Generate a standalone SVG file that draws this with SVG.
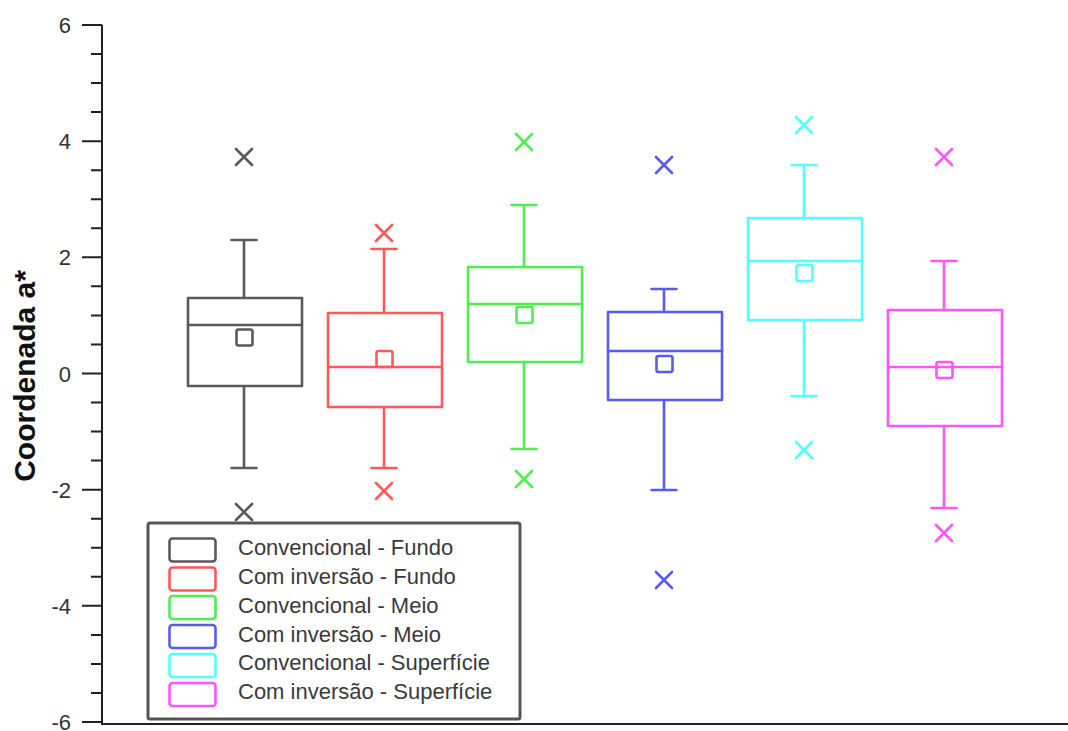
<svg xmlns="http://www.w3.org/2000/svg" width="1068" height="731" viewBox="0 0 1068 731">
  <style>
    .axis { stroke: #222; stroke-width: 2; fill: none; }
    .tick { font-family: "Liberation Sans", Arial, sans-serif; font-size: 22px; fill: #333; text-anchor: end; }
    .ylab { font-family: "Liberation Sans", Arial, sans-serif; font-size: 30px; font-weight: bold; fill: #111; text-anchor: middle; }
    .bx { fill: none; stroke-width: 2.6; stroke-linejoin: round; stroke-linecap: round; }
    .leg { font-family: "Liberation Sans", Arial, sans-serif; font-size: 22px; fill: #3a3a3a; }
    .c1 { stroke: #5a5a5a; } .c2 { stroke: #ff5a5a; } .c3 { stroke: #50ee50; }
    .c4 { stroke: #5a5af0; } .c5 { stroke: #55ffff; } .c6 { stroke: #ff55ff; }
  </style>

  <rect width="1068" height="731" fill="#fff"/>

  <!-- axes -->
  <g id="axes">
    <path class="axis" d="M102 25 V724 M101 724 H1068"/>
    <path class="axis" d="M82 25 H102 M82 141.2 H102 M82 257.3 H102 M82 373.5 H102 M82 489.7 H102 M82 605.8 H102 M82 722 H102"/>
    <path class="axis" d="M91 54 H102 M91 83.1 H102 M91 112.1 H102 M91 170.2 H102 M91 199.2 H102 M91 228.3 H102 M91 286.3 H102 M91 315.4 H102 M91 344.5 H102 M91 402.5 H102 M91 431.6 H102 M91 460.6 H102 M91 518.7 H102 M91 547.8 H102 M91 576.8 H102 M91 634.9 H102 M91 663.9 H102 M91 693 H102"/>
    <text class="tick" x="71" y="33">6</text>
    <text class="tick" x="71" y="149">4</text>
    <text class="tick" x="71" y="265">2</text>
    <text class="tick" x="71" y="381.5">0</text>
    <text class="tick" x="71" y="497.5">-2</text>
    <text class="tick" x="71" y="614">-4</text>
    <text class="tick" x="71" y="730">-6</text>
    <text class="ylab" transform="translate(35 376) rotate(-90)">Coordenada a*</text>
  </g>

  <!-- box plots: box, median, whiskers with caps, mean square, outliers -->
  <g id="box-conv-fundo" class="bx c1">
    <rect x="188" y="298" width="114" height="88"/>
    <path d="M188 325 H302 M244 298 V240 M231.5 240 H256.5 M244 386 V468 M231.5 468 H256.5"/>
    <rect x="236.5" y="329.5" width="16" height="16" rx="2"/>
    <path d="M236 149 L252 165 M252 149 L236 165 M236 504 L252 520 M252 504 L236 520"/>
  </g>
  <g id="box-inv-fundo" class="bx c2">
    <rect x="328" y="313" width="114" height="94"/>
    <path d="M328 367 H442 M384 313 V249 M371.5 249 H396.5 M384 407 V468 M371.5 468 H396.5"/>
    <rect x="376.5" y="351" width="16" height="16" rx="2"/>
    <path d="M376 225 L392 241 M392 225 L376 241 M376 483 L392 499 M392 483 L376 499"/>
  </g>
  <g id="box-conv-meio" class="bx c3">
    <rect x="468" y="267" width="114" height="95"/>
    <path d="M468 304 H582 M524 267 V205 M511.5 205 H536.5 M524 362 V449 M511.5 449 H536.5"/>
    <rect x="516.5" y="307" width="16" height="16" rx="2"/>
    <path d="M516 134 L532 150 M532 134 L516 150 M516 471 L532 487 M532 471 L516 487"/>
  </g>
  <g id="box-inv-meio" class="bx c4">
    <rect x="608" y="312" width="114" height="88"/>
    <path d="M608 351 H722 M664 312 V289 M651.5 289 H676.5 M664 400 V490 M651.5 490 H676.5"/>
    <rect x="656.5" y="356" width="16" height="16" rx="2"/>
    <path d="M656 157 L672 173 M672 157 L656 173 M656 572 L672 588 M672 572 L656 588"/>
  </g>
  <g id="box-conv-superficie" class="bx c5">
    <rect x="748" y="218" width="114" height="102"/>
    <path d="M748 261 H862 M804 218 V165 M791.5 165 H816.5 M804 320 V396 M791.5 396 H816.5"/>
    <rect x="796.5" y="265" width="16" height="16" rx="2"/>
    <path d="M796 117 L812 133 M812 117 L796 133 M796 442 L812 458 M812 442 L796 458"/>
  </g>
  <g id="box-inv-superficie" class="bx c6">
    <rect x="888" y="310" width="114" height="116"/>
    <path d="M888 367 H1002 M944 310 V261 M931.5 261 H956.5 M944 426 V508 M931.5 508 H956.5"/>
    <rect x="936.5" y="362" width="16" height="16" rx="2"/>
    <path d="M936 149 L952 165 M952 149 L936 165 M936 525 L952 541 M952 525 L936 541"/>
  </g>

  <!-- legend -->
  <g id="legend">
    <rect x="148" y="523" width="372" height="196" rx="2" fill="#fff" stroke="#555" stroke-width="3"/>
    <rect class="bx c1" x="169.5" y="538.5" width="46" height="23" rx="3" stroke-width="3"/>
    <rect class="bx c2" x="169.5" y="567.5" width="46" height="23" rx="3" stroke-width="3"/>
    <rect class="bx c3" x="169.5" y="596" width="46" height="23" rx="3" stroke-width="3"/>
    <rect class="bx c4" x="169.5" y="625" width="46" height="23" rx="3" stroke-width="3"/>
    <rect class="bx c5" x="169.5" y="654" width="46" height="23" rx="3" stroke-width="3"/>
    <rect class="bx c6" x="169.5" y="683" width="46" height="23" rx="3" stroke-width="3"/>
    <text class="leg" x="238" y="555">Convencional - Fundo</text>
    <text class="leg" x="238" y="584">Com inversão - Fundo</text>
    <text class="leg" x="238" y="612.5">Convencional - Meio</text>
    <text class="leg" x="238" y="641.5">Com inversão - Meio</text>
    <text class="leg" x="238" y="670">Convencional - Superfície</text>
    <text class="leg" x="238" y="699">Com inversão - Superfície</text>
  </g>
</svg>
